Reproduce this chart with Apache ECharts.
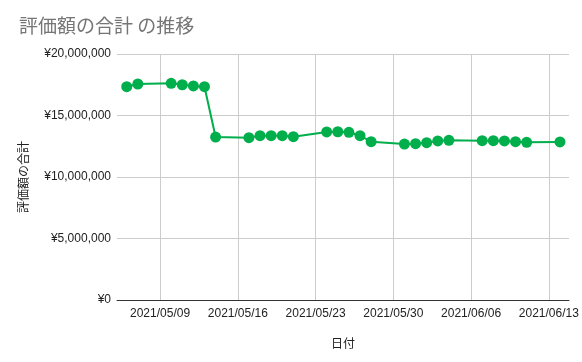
<!DOCTYPE html>
<html>
<head>
<meta charset="utf-8">
<script src="https://cdn.jsdelivr.net/npm/echarts@6/dist/echarts.min.js"></script>
<style>html,body{margin:0;padding:0;background:#fff}#c{width:582px;height:362px}</style>
</head>
<body>
<div id="c"></div>
<script>
const titleText = '評価額の合計 の推移';
const xName = '日付';
const yName = '評価額の合計';
const dates = ['2021-05-06','2021-05-07','2021-05-10','2021-05-11','2021-05-12','2021-05-13','2021-05-14',
  '2021-05-17','2021-05-18','2021-05-19','2021-05-20','2021-05-21',
  '2021-05-24','2021-05-25','2021-05-26','2021-05-27','2021-05-28',
  '2021-05-31','2021-06-01','2021-06-02','2021-06-03','2021-06-04',
  '2021-06-07','2021-06-08','2021-06-09','2021-06-10','2021-06-11','2021-06-14'];
const values = [17340000,17560000,17620000,17500000,17400000,17340000,13250000,
  13200000,13360000,13360000,13360000,13280000,
  13660000,13680000,13630000,13360000,12870000,
  12680000,12710000,12790000,12930000,12980000,
  12950000,12950000,12930000,12870000,12820000,12850000];
const xTicks = ['2021-05-09','2021-05-16','2021-05-23','2021-05-30','2021-06-06','2021-06-13'];
const xMinDate = '2021-05-05T03:00';
const xMaxDate = '2021-06-14T19:30';

const BASE = Date.UTC(2021,4,9);
const DAY = 86400000;
function dayNum(s){
  const [d,t] = s.split('T');
  const [Y,M,D] = d.split('-').map(Number);
  let h=0,m=0;
  if(t){[h,m]=t.split(':').map(Number);}
  return (Date.UTC(Y,M-1,D,h,m)-BASE)/DAY;
}
function fmtDate(v){
  const d = new Date(BASE + Math.round(v)*DAY);
  const p = n => String(n).padStart(2,'0');
  return d.getUTCFullYear()+'/'+p(d.getUTCMonth()+1)+'/'+p(d.getUTCDate());
}
function fmtYen(v){
  return '¥'+String(Math.round(v)).replace(/\B(?=(\d{3})+(?!\d))/g, ',');
}
const tickVals = xTicks.map(dayNum);
const chart = echarts.init(document.getElementById('c'), null, {renderer:'canvas'});
chart.setOption({
  animation:false,
  backgroundColor:'#ffffff',
  textStyle:{fontFamily:'"Liberation Sans", Arial, sans-serif'},
  title:{text:titleText,left:14,top:11,textStyle:{fontSize:19,fontWeight:'normal',color:'#757575',fontFamily:'"Noto Sans CJK JP", sans-serif'}},
  grid:{left:117,right:13,top:54,bottom:62,containLabel:false},
  xAxis:{
    type:'value',
    min:dayNum(xMinDate), max:dayNum(xMaxDate),
    name:xName, nameLocation:'middle', nameGap:37,
    nameTextStyle:{fontSize:12,color:'#222',fontFamily:'"Noto Sans CJK JP", sans-serif'},
    axisLine:{show:true,lineStyle:{color:'#333',width:1}},
    axisTick:{show:false,customValues:tickVals},
    axisLabel:{customValues:tickVals,formatter:fmtDate,fontSize:12,color:'#222',margin:8,showMinLabel:true,showMaxLabel:true,hideOverlap:false},
    splitLine:{show:true,lineStyle:{color:'#cccccc',width:1}}
  },
  yAxis:{
    type:'value', min:0, max:20000000, interval:5000000,
    name:yName, nameLocation:'middle', nameGap:88,
    nameTextStyle:{fontSize:12,color:'#222',fontFamily:'"Noto Sans CJK JP", sans-serif'},
    axisLine:{show:false},
    axisTick:{show:false},
    axisLabel:{formatter:fmtYen,fontSize:12,color:'#222',margin:6},
    splitLine:{show:true,lineStyle:{color:'#cccccc',width:1}}
  },
  series:[{
    type:'line',
    data:dates.map((d,i)=>[dayNum(d),values[i]]),
    symbol:'circle', symbolSize:11, showSymbol:true,
    itemStyle:{color:'#00ae4c'},
    lineStyle:{color:'#00ae4c',width:2}
  }]
});
</script>
</body>
</html>
